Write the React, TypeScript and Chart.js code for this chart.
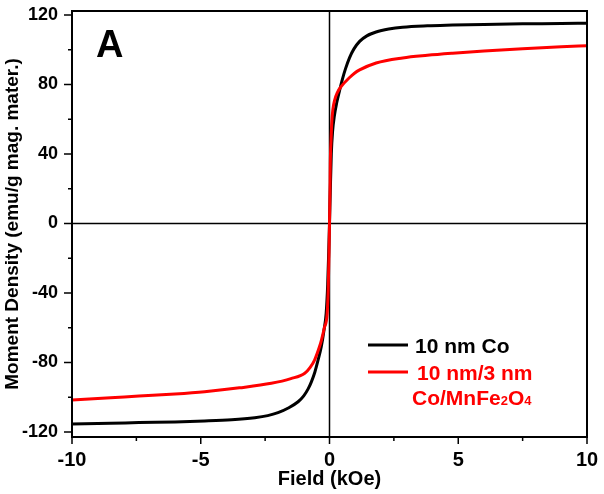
import React, { useEffect, useRef } from "react";
import { Chart, registerables } from "chart.js";

Chart.register(...registerables);

// ---- data ----
const fieldCo = [
  -10, -8.5, -7.4, -6, -4.85, -3.8, -2.9, -2.4, -2.0, -1.6, -1.22, -1.0, -0.83, -0.7, -0.57,
  -0.45, -0.32, -0.22, -0.13, -0.07, -0.03, 0, 0.03, 0.07, 0.12, 0.19, 0.28, 0.39, 0.5,
  0.62, 0.78, 0.95, 1.17, 1.45, 1.81, 2.3, 2.84, 3.8, 4.78, 6, 7.5, 9, 10,
];
const momentCo = [
  -115.4, -115.0, -114.6, -114.2, -113.7, -113.0, -111.8, -110.6, -108.9, -106.2, -102.6,
  -99.2, -95.2, -91, -85.6, -79, -71, -62, -51.7, -35, -16, 0, 18, 40, 53, 62, 69.5,
  76.5, 83, 89, 95.5, 100.5, 104.8, 108, 110.2, 111.9, 113.0, 113.8, 114.2, 114.6, 114.9,
  115.1, 115.3,
];

const fieldShell = [
  -10, -8.5, -7.4, -6, -4.85, -3.5, -2.26, -1.5, -0.96, -0.75, -0.58, -0.39, -0.31, -0.2,
  -0.09, -0.05, -0.02, 0, 0.02, 0.03, 0.06, 0.09, 0.13, 0.19, 0.32, 0.45, 0.78, 0.97, 1.17,
  1.81, 2.84, 3.8, 4.78, 6, 7.5, 9, 10,
];
const momentShell = [
  -101.6, -100.3, -99.3, -98.1, -96.8, -94.6, -92, -89.3, -86.2, -82.8, -78.6, -71, -67, -60,
  -51.7, -38, -18, 0, 20, 34, 48, 58.5, 65.5, 70.5, 75.8, 78.8, 84, 86.5, 88.4, 92.4, 95.3,
  96.8, 98, 99.3, 100.6, 101.7, 102.3,
];

const xMajorTicks = [-10, -5, 0, 5, 10];
const xMinorTicks = [-7.5, -2.5, 2.5, 7.5];
const yMajorTicks = [-120, -80, -40, 0, 40, 80, 120];
const yMinorTicks = [-100, -60, -20, 20, 60, 100];

const seriesNames = ["10 nm Co", "10 nm/3 nm"];
const seriesColors = ["#000000", "#ff0000"];

const FONT = "'Liberation Sans', Arial, Helvetica, sans-serif";

const framePlugin = {
  id: "frame",
  beforeDatasetsDraw(chart: any) {
    const { ctx, chartArea, scales } = chart;
    const { left, right, top, bottom } = chartArea;
    const x0 = scales.x.getPixelForValue(0);
    const y0 = scales.y.getPixelForValue(0);
    ctx.save();
    ctx.strokeStyle = "#000";
    ctx.lineWidth = 1.5;
    ctx.beginPath();
    ctx.moveTo(x0, top);
    ctx.lineTo(x0, bottom);
    ctx.moveTo(left, y0);
    ctx.lineTo(right, y0);
    ctx.stroke();
    ctx.restore();
  },
  afterDraw(chart: any) {
    const { ctx, chartArea, scales } = chart;
    const { left, right, top, bottom } = chartArea;
    ctx.save();
    ctx.strokeStyle = "#000";
    ctx.lineWidth = 2;
    ctx.strokeRect(left, top, right - left, bottom - top);

    ctx.lineWidth = 1.5;
    ctx.beginPath();
    xMajorTicks.forEach((v) => {
      const px = scales.x.getPixelForValue(v);
      ctx.moveTo(px, bottom);
      ctx.lineTo(px, bottom + 7);
    });
    xMinorTicks.forEach((v) => {
      const px = scales.x.getPixelForValue(v);
      ctx.moveTo(px, bottom);
      ctx.lineTo(px, bottom + 4);
    });
    yMajorTicks.forEach((v) => {
      const py = scales.y.getPixelForValue(v);
      ctx.moveTo(left, py);
      ctx.lineTo(left - 8, py);
    });
    yMinorTicks.forEach((v) => {
      const py = scales.y.getPixelForValue(v);
      ctx.moveTo(left, py);
      ctx.lineTo(left - 4, py);
    });
    ctx.stroke();

    // panel letter
    ctx.fillStyle = "#000";
    ctx.font = `bold 38px ${FONT}`;
    ctx.textBaseline = "alphabetic";
    ctx.textAlign = "left";
    ctx.fillText("A", left + 24, top + 46);

    // legend
    const lx0 = left + 296;
    const lx1 = left + 336;
    ctx.lineWidth = 3;
    ctx.strokeStyle = seriesColors[0];
    ctx.beginPath();
    ctx.moveTo(lx0, 345);
    ctx.lineTo(lx1, 345);
    ctx.stroke();
    ctx.strokeStyle = seriesColors[1];
    ctx.beginPath();
    ctx.moveTo(lx0, 372);
    ctx.lineTo(lx1, 372);
    ctx.stroke();

    ctx.font = `bold 21px ${FONT}`;
    ctx.fillStyle = seriesColors[0];
    ctx.fillText(seriesNames[0], left + 343, 352.5);
    ctx.fillStyle = seriesColors[1];
    ctx.fillText(seriesNames[1], left + 345, 379.5);

    let cx = left + 340;
    const base = 405;
    const parts: [string, number][] = [
      ["Co/MnFe", 21],
      ["2", 13],
      ["O", 21],
      ["4", 13],
    ];
    parts.forEach(([t, s]) => {
      ctx.font = `bold ${s}px ${FONT}`;
      ctx.fillText(t, cx, base);
      cx += ctx.measureText(t).width;
    });
    ctx.restore();
  },
};

export default function App() {
  const canvasRef = useRef<HTMLCanvasElement | null>(null);

  useEffect(() => {
    const canvas = canvasRef.current;
    if (!canvas) return;
    const chart = new Chart(canvas, {
      type: "line",
      data: {
        datasets: [
          {
            label: seriesNames[0],
            data: fieldCo.map((x, i) => ({ x, y: momentCo[i] })),
            borderColor: seriesColors[0],
            borderWidth: 3,
            pointRadius: 0,
            fill: false,
            cubicInterpolationMode: "monotone",
            order: 1,
          },
          {
            label: seriesNames[1],
            data: fieldShell.map((x, i) => ({ x, y: momentShell[i] })),
            borderColor: seriesColors[1],
            borderWidth: 3,
            pointRadius: 0,
            fill: false,
            cubicInterpolationMode: "monotone",
            order: 0,
          },
        ],
      },
      options: {
        animation: false,
        responsive: false,
        devicePixelRatio: 1,
        layout: { padding: { left: 0, right: 17, top: 11, bottom: 0 } },
        plugins: { legend: { display: false }, tooltip: { enabled: false } },
        scales: {
          x: {
            type: "linear",
            position: "bottom",
            min: -10,
            max: 10,
            grid: { display: false, drawTicks: false },
            border: { display: false },
            afterBuildTicks: (s: any) => {
              s.ticks = xMajorTicks.map((v) => ({ value: v }));
            },
            ticks: {
              padding: 13,
              color: "#000",
              autoSkip: false,
              maxRotation: 0,
              font: { family: FONT, size: 20, weight: "bold", lineHeight: 1 },
              callback: (v: any) => String(v),
            },
            title: {
              display: true,
              text: "Field (kOe)",
              color: "#000",
              font: { family: FONT, size: 20, weight: "bold", lineHeight: 1 },
              padding: { top: 0, bottom: 5 },
            },
            afterFit: (s: any) => {
              s.height = 57;
              s.paddingLeft = 0;
              s.paddingRight = 0;
              s.paddingTop = 0;
              s.paddingBottom = 0;
            },
          },
          y: {
            type: "linear",
            min: -122.9,
            max: 122.3,
            grid: { display: false, drawTicks: false },
            border: { display: false },
            afterBuildTicks: (s: any) => {
              s.ticks = yMajorTicks.map((v) => ({ value: v }));
            },
            ticks: {
              padding: 14,
              color: "#000",
              autoSkip: false,
              font: { family: FONT, size: 18, weight: "bold", lineHeight: 1 },
              callback: (v: any) => String(v),
            },
            title: {
              display: true,
              text: "Moment Density (emu/g mag. mater.)",
              color: "#000",
              font: { family: FONT, size: 19, weight: "bold", lineHeight: 1 },
              padding: { top: 3.5, bottom: 0 },
            },
            afterFit: (s: any) => {
              s.width = 72;
              s.paddingLeft = 0;
              s.paddingRight = 0;
              s.paddingTop = 0;
              s.paddingBottom = 0;
            },
          },
        },
      } as any,
      plugins: [framePlugin],
    });
    return () => chart.destroy();
  }, []);

  return (
    <div style={{ position: "fixed", left: 0, top: 0, width: 604, height: 494, background: "#fff" }}>
      <canvas ref={canvasRef} width={604} height={494} style={{ display: "block" }} />
    </div>
  );
}
